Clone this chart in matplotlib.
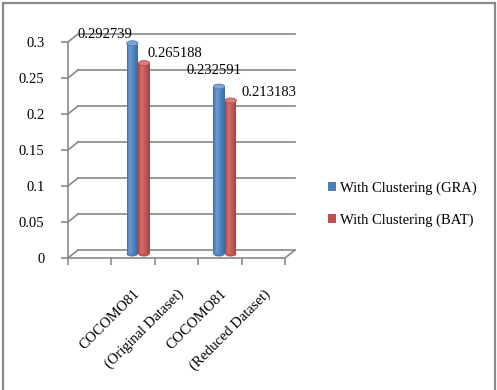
import matplotlib
matplotlib.use("Agg")
import matplotlib.pyplot as plt
import matplotlib.transforms as mtransforms
from matplotlib.patches import Ellipse, Rectangle, Patch
import numpy as np

# ---- data ----
categories = ["", "COCOMO81", "(Original Dataset)", "COCOMO81", "(Reduced Dataset)"]
bar_slots = [1, 3]
gra_values = [0.292739, 0.232591]
bat_values = [0.265188, 0.213183]
series_names = ["With Clustering (GRA)", "With Clustering (BAT)"]
yticks = [0, 0.05, 0.1, 0.15, 0.2, 0.25, 0.3]
ytick_labels = ["0", "0.05", "0.1", "0.15", "0.2", "0.25", "0.3"]
gra_label_text = ["0.292739", "0.232591"]
bat_label_text = ["0.265188", "0.213183"]

W, H, DPI = 497, 390, 100
plt.rcParams['font.family'] = ['Liberation Serif', 'DejaVu Serif']
fig = plt.figure(figsize=(W / DPI, H / DPI), dpi=DPI)

# outer border
fig.patches.append(Rectangle((2.5 / W, -0.05), (495 - 2.5) / W, (H - 3) / H + 0.05,
                             transform=fig.transFigure, fill=False,
                             edgecolor="#8a8a8a", lw=1.6, zorder=0))

# front plane axes (pixels)
x0, x1 = 68, 285
y0, y1 = 258, 42
ax = fig.add_axes([x0 / W, (H - y0) / H, (x1 - x0) / W, (y0 - y1) / H])
ax.set_xlim(-0.5, len(categories) - 0.5)
ax.set_ylim(0, 0.3)
for s in ["top", "right", "bottom"]:
    ax.spines[s].set_visible(False)
ax.spines["left"].set_color("#8a8a8a")
ax.spines["left"].set_linewidth(1.2)
ax.patch.set_alpha(0)

grid_c = "#8c8c8c"
glw = 1.25
dx, dy = 10, 8  # depth offset in pixels
back = ax.transData + mtransforms.ScaledTranslation(dx / DPI, dy / DPI, fig.dpi_scale_trans)
mid = ax.transData + mtransforms.ScaledTranslation(5 / DPI, 4 / DPI, fig.dpi_scale_trans)

xl, xr = ax.get_xlim()
for v in yticks:
    ax.plot([xl, xr], [v, v], color=grid_c, lw=glw, transform=back, clip_on=False, zorder=1)
    p0 = ax.transData.transform((xl, v))
    p1 = back.transform((xl, v))
    fig.add_artist(plt.Line2D([p0[0] / W, p1[0] / W], [p0[1] / H, p1[1] / H],
                              color=grid_c, lw=glw, transform=fig.transFigure))
# floor front edge and right diagonal
ax.plot([xl, xr], [0, 0], color=grid_c, lw=glw, clip_on=False, zorder=1)
p0 = ax.transData.transform((xr, 0))
p1 = back.transform((xr, 0))
fig.add_artist(plt.Line2D([p0[0] / W, p1[0] / W], [p0[1] / H, p1[1] / H],
                          color=grid_c, lw=glw, transform=fig.transFigure))

# y ticks
ax.set_yticks(yticks)
ax.set_yticklabels(ytick_labels, fontsize=10.5)
ax.tick_params(axis="y", length=5, color=grid_c, width=1.2, pad=12)

# x ticks: boundaries as minor ticks, labels at centers
ax.set_xticks(np.arange(-0.5, len(categories)), minor=True)
ax.set_xticks(np.arange(len(categories)))
ax.set_xticklabels(categories, fontsize=10.5, rotation=45, ha="right",
                   va="top", rotation_mode="anchor")
ax.tick_params(axis="x", which="major", length=0, pad=21)
ax.tick_params(axis="x", which="minor", length=5, color=grid_c, width=1.2)

# cylinders
bw = 0.26
ell_h = 0.3 * 5 / (y0 - y1)
styles = [("#4A7EBB", "#7EA6D8", "#345F93"), ("#C0504D", "#D9807D", "#923B39")]

def cylinder(xc, val, cols):
    base, light, dark = cols
    n = 12
    xs = np.linspace(xc - bw / 2, xc + bw / 2, n + 1)
    t = (np.arange(n) + 0.5) / n
    c0 = np.array(matplotlib.colors.to_rgb(dark))
    c1 = np.array(matplotlib.colors.to_rgb(light))
    cb = np.array(matplotlib.colors.to_rgb(base))
    for i in range(n):
        f = t[i]
        w = 0.6 * np.exp(-((f - 0.35) / 0.2) ** 2)
        col = cb * (1 - w) + c1 * w
        if f > 0.7:
            d = (f - 0.7) / 0.3 * 0.7
            col = col * (1 - d) + c0 * d
        if f < 0.1:
            col = col * 0.6 + c0 * 0.4
        ax.bar(xs[i], val, width=xs[i + 1] - xs[i] + 0.002, align="edge", color=col,
               transform=mid, clip_on=False, zorder=3, lw=0)
    ax.add_patch(Ellipse((xc, 0), bw, ell_h, facecolor=base, lw=0, transform=mid,
                         clip_on=False, zorder=2.9))
    ax.add_patch(Ellipse((xc, val), bw, ell_h, facecolor=light, edgecolor=base, lw=0.6,
                         transform=mid, clip_on=False, zorder=4))

off = 0.135
for k, slot in enumerate(bar_slots):
    cylinder(slot - off, gra_values[k], styles[0])
    cylinder(slot + off, bat_values[k], styles[1])

# data labels
gra_offsets = [(-27, 9), (-5, 16)]
bat_offsets = [(31, 10), (38, 8)]
for k, slot in enumerate(bar_slots):
    ax.annotate(gra_label_text[k], xy=(slot - off, gra_values[k]), xycoords=mid,
                xytext=gra_offsets[k], textcoords="offset pixels",
                ha="center", va="center", fontsize=10.5, zorder=6)
    ax.annotate(bat_label_text[k], xy=(slot + off, bat_values[k]), xycoords=mid,
                xytext=bat_offsets[k], textcoords="offset pixels",
                ha="center", va="center", fontsize=10.5, zorder=6)

# legend
handles = [Patch(facecolor=styles[0][0]), Patch(facecolor=styles[1][0])]
fig.legend(handles, series_names, loc="center left",
           bbox_to_anchor=(322 / W, (H - 204) / H), frameon=False,
           fontsize=10.5, handlelength=0.55, handleheight=0.55,
           handletextpad=0.25, labelspacing=1.25, borderaxespad=0)

fig.savefig("out.png", dpi=DPI)
